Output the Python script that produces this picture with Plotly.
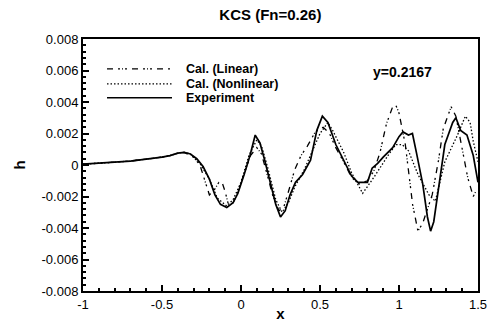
import plotly.graph_objects as go

# Wave cut h(x) along y=0.2167 for KCS at Fn=0.26
exp_x = [-1.0, -0.9, -0.8, -0.7, -0.6, -0.5, -0.45, -0.4, -0.36, -0.32, -0.28, -0.24, -0.2,
         -0.165, -0.13, -0.09, -0.05, -0.02, 0.02, 0.057, 0.09, 0.12, 0.15, 0.19, 0.22, 0.25,
         0.28, 0.31, 0.345, 0.39, 0.44, 0.48, 0.515, 0.55, 0.6, 0.65, 0.7, 0.74, 0.8, 0.83,
         0.865, 0.9, 0.96, 1.0, 1.025, 1.06, 1.085, 1.11, 1.15, 1.18, 1.2, 1.22, 1.25, 1.29,
         1.34, 1.36, 1.39, 1.43, 1.47, 1.5]
exp_h = [0.00005, 0.0001, 0.00018, 0.00025, 0.00036, 0.0005, 0.0006, 0.00075, 0.0008, 0.0007,
         0.0004, -0.0001, -0.0009, -0.0019, -0.0025, -0.0027, -0.0024, -0.0018, -0.0006, 0.0006,
         0.0019, 0.0014, 0.0003, -0.0012, -0.0025, -0.0033, -0.0029, -0.0019, -0.0011, -0.0006,
         0.0003, 0.0022, 0.0031, 0.0027, 0.0013, 0.0003, -0.0007, -0.0011, -0.0011, -0.0002,
         0.0001, 0.0005, 0.0011, 0.0018, 0.0021, 0.0019, 0.002, 0.0008, -0.0012, -0.0033,
         -0.0042, -0.0036, -0.0015, 0.0013, 0.0027, 0.003, 0.0022, 0.0019, 0.0006, -0.0011]

lin_x = [-1.0, -0.9, -0.8, -0.7, -0.6, -0.5, -0.45, -0.4, -0.36, -0.3, -0.26, -0.23, -0.2,
         -0.17, -0.14, -0.12, -0.1, -0.08, -0.05, -0.02, 0.02, 0.06, 0.1, 0.13, 0.16, 0.2,
         0.24, 0.27, 0.3, 0.34, 0.38, 0.42, 0.47, 0.52, 0.56, 0.6, 0.65, 0.7, 0.75, 0.8, 0.84,
         0.88, 0.92, 0.96, 0.98, 1.0, 1.04, 1.086, 1.12, 1.15, 1.21, 1.25, 1.28, 1.33, 1.36,
         1.39, 1.435, 1.47, 1.49]
lin_h = [0.00005, 0.0001, 0.00018, 0.00025, 0.00036, 0.0005, 0.0006, 0.00075, 0.0008, 0.0005,
         0.0, -0.0009, -0.0019, -0.0016, -0.0011, -0.0011, -0.0017, -0.0025, -0.0024, -0.0017,
         -0.0005, 0.0006, 0.0011, 0.0007, -0.0004, -0.0019, -0.0029, -0.0027, -0.0017, -0.0003,
         0.0006, 0.0012, 0.0021, 0.0024, 0.002, 0.0011, 0.0002, -0.0008, -0.0012, -0.001,
         -0.0004, 0.0008, 0.0026, 0.0037, 0.0038, 0.0033, 0.0013, -0.0025, -0.0042, -0.0037,
         -0.0019, 0.0003, 0.0023, 0.0037, 0.0031, 0.0015, -0.0008, -0.002, -0.0016]

nl_x = [-1.0, -0.9, -0.8, -0.7, -0.6, -0.5, -0.45, -0.4, -0.36, -0.32, -0.26, -0.2, -0.15,
        -0.09, -0.05, 0.0, 0.05, 0.1, 0.13, 0.17, 0.22, 0.26, 0.3, 0.34, 0.4, 0.45, 0.5, 0.55,
        0.58, 0.65, 0.7, 0.77, 0.84, 0.93, 0.98, 1.02, 1.06, 1.12, 1.19, 1.23, 1.29, 1.37,
        1.42, 1.45, 1.47, 1.5]
nl_h = [0.00005, 0.0001, 0.00018, 0.00025, 0.00036, 0.0005, 0.0006, 0.00075, 0.0008, 0.0007,
        0.0001, -0.0009, -0.0021, -0.0026, -0.0022, -0.0011, 0.0006, 0.0016, 0.0012, -0.0002,
        -0.0022, -0.003, -0.0024, -0.0014, -0.0003, 0.0008, 0.002, 0.0027, 0.0022, 0.0008,
        -0.0005, -0.0018, -0.0008, 0.0006, 0.0013, 0.0013, 0.0009, -0.0006, -0.0019, -0.0023,
        0.0002, 0.0019, 0.0031, 0.0027, 0.0015, 0.0002]

series_names = ["Cal. (Linear)", "Cal. (Nonlinear)", "Experiment"]

x_ticks = [-1, -0.5, 0, 0.5, 1, 1.5]
x_labels = ["-1", "-0.5", "0", "0.5", "1", "1.5"]
y_ticks = [-0.008, -0.006, -0.004, -0.002, 0, 0.002, 0.004, 0.006, 0.008]
y_labels = ["-0.008", "-0.006", "-0.004", "-0.002", "0", "0.002", "0.004", "0.006", "0.008"]

font = "Liberation Sans, Arial, sans-serif"
styles = [
    dict(color="black", width=1.3, dash="6px,5px,2px,2px,1px,2px,2px,5px"),
    dict(color="black", width=1.3, dash="1.5px,2px"),
    dict(color="black", width=1.7),
]

fig = go.Figure()
for name, xs, hs, st in zip(series_names, [lin_x, nl_x, exp_x], [lin_h, nl_h, exp_h], styles):
    fig.add_trace(go.Scatter(x=xs, y=hs, mode="lines", name=name, line=st, showlegend=False))

# Legend key drawn inside the frame, upper left
key_rows = [0.8814, 0.8221, 0.7668]
for name, st, yk in zip(series_names, styles, key_rows):
    fig.add_shape(type="line", xref="paper", yref="paper", x0=0.0608, x1=0.2253, y0=yk, y1=yk,
                  line=st)
    fig.add_annotation(text="<b>" + name + "</b>", xref="paper", yref="paper", x=0.255, y=yk,
                       xanchor="left", yanchor="middle", showarrow=False,
                       font=dict(family=font, size=12.5, color="black"))

axis_common = dict(
    showgrid=False, zeroline=False, showline=True, linecolor="black", linewidth=2,
    mirror=True, ticks="inside", tickcolor="black", tickwidth=1.5, ticklen=6,
    tickfont=dict(family=font, size=13, color="black"), automargin=False,
)

fig.update_xaxes(
    range=[-1, 1.5], tickvals=x_ticks, ticktext=x_labels,
    minor=dict(ticks="inside", ticklen=3, tickcolor="black", dtick=0.1, tick0=0),
    title=dict(text="<b>x</b>", font=dict(family=font, size=15, color="black"), standoff=0),
    **axis_common,
)
fig.update_yaxes(
    range=[-0.008, 0.008], tickvals=y_ticks, ticktext=y_labels,
    minor=dict(ticks="inside", ticklen=3, tickcolor="black", dtick=0.0004, tick0=0),
    title=dict(text="<b>h</b>", font=dict(family=font, size=15, color="black"), standoff=12),
    **axis_common,
)

fig.update_layout(
    width=498, height=322,
    margin=dict(l=83, r=20, t=39, b=31),
    paper_bgcolor="white", plot_bgcolor="white",
    title=dict(text="<b>KCS (Fn=0.26)</b>", x=0.543, xanchor="center", y=0.953, yanchor="middle",
               font=dict(family=font, size=15, color="black")),
    showlegend=False,
)

fig.add_annotation(text="<b>y=0.2167</b>", x=1.02, y=0.0059, xref="x", yref="y",
                   xanchor="center", yanchor="middle", showarrow=False,
                   font=dict(family=font, size=14, color="black"))

fig.write_html("out.html")
